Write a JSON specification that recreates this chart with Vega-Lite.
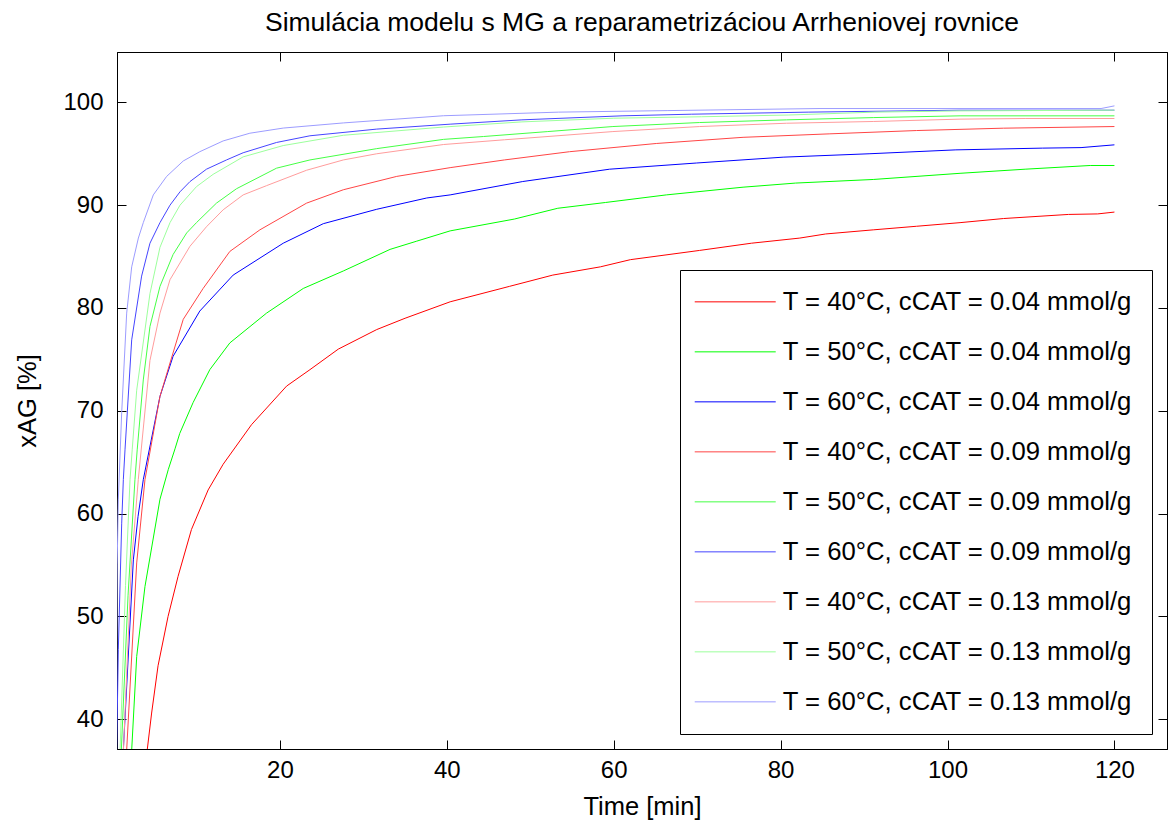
{
  "$schema": "https://vega.github.io/schema/vega-lite/v6.json",
  "width": 1050,
  "height": 697,
  "autosize": {"type": "none"},
  "padding": {"left": 117, "top": 52, "right": 6, "bottom": 77},
  "background": "white",
  "title": {"text": "Simulácia modelu s MG a reparametrizáciou Arrheniovej rovnice", "font": "Liberation Sans", "fontSize": 26.5, "fontWeight": "normal", "color": "black", "anchor": "middle", "offset": 15},
  "config": {
    "view": {"stroke": "black", "strokeWidth": 1},
    "axis": {"labelFont": "Liberation Sans", "titleFont": "Liberation Sans", "labelFontSize": 24, "titleFontSize": 25.5, "titleFontWeight": "normal", "labelColor": "black", "titleColor": "black", "domainColor": "black", "tickColor": "black", "grid": false, "tickSize": -9}
  },
  "data": {"values": [
    {"s":"40|0.04","t":3.7,"x":34},{"s":"40|0.04","t":4.1,"x":37.0},{"s":"40|0.04","t":4.63,"x":40.6},{"s":"40|0.04","t":5.4,"x":45.2},{"s":"40|0.04","t":6.6,"x":50.0},{"s":"40|0.04","t":7.8,"x":53.9},{"s":"40|0.04","t":9.4,"x":58.45},{"s":"40|0.04","t":11.4,"x":62.3},{"s":"40|0.04","t":13.2,"x":64.8},{"s":"40|0.04","t":16.6,"x":68.65},{"s":"40|0.04","t":20.8,"x":72.4},{"s":"40|0.04","t":23.6,"x":74.0},{"s":"40|0.04","t":27,"x":76.0},{"s":"40|0.04","t":31.6,"x":77.9},{"s":"40|0.04","t":35,"x":79.0},{"s":"40|0.04","t":40.4,"x":80.6},{"s":"40|0.04","t":47.5,"x":82.1},{"s":"40|0.04","t":52.7,"x":83.2},{"s":"40|0.04","t":58.4,"x":84.0},{"s":"40|0.04","t":62,"x":84.7},{"s":"40|0.04","t":70.3,"x":85.6},{"s":"40|0.04","t":76.5,"x":86.3},{"s":"40|0.04","t":82.3,"x":86.8},{"s":"40|0.04","t":85.4,"x":87.2},{"s":"40|0.04","t":91.1,"x":87.6},{"s":"40|0.04","t":96.3,"x":87.95},{"s":"40|0.04","t":101.5,"x":88.3},{"s":"40|0.04","t":106.7,"x":88.7},{"s":"40|0.04","t":114.5,"x":89.1},{"s":"40|0.04","t":118,"x":89.15},{"s":"40|0.04","t":120,"x":89.33},
    {"s":"50|0.04","t":2.0,"x":34.5},{"s":"50|0.04","t":2.24,"x":37.0},{"s":"50|0.04","t":2.84,"x":46.1},{"s":"50|0.04","t":3.83,"x":52.9},{"s":"50|0.04","t":5.63,"x":61.4},{"s":"50|0.04","t":6.63,"x":64.3},{"s":"50|0.04","t":7.43,"x":66.3},{"s":"50|0.04","t":8.0,"x":67.8},{"s":"50|0.04","t":9.6,"x":70.8},{"s":"50|0.04","t":11.6,"x":74.0},{"s":"50|0.04","t":14.0,"x":76.6},{"s":"50|0.04","t":18.4,"x":79.5},{"s":"50|0.04","t":22.8,"x":81.9},{"s":"50|0.04","t":27.6,"x":83.6},{"s":"50|0.04","t":33.2,"x":85.7},{"s":"50|0.04","t":36.4,"x":86.5},{"s":"50|0.04","t":40.4,"x":87.5},{"s":"50|0.04","t":48.1,"x":88.65},{"s":"50|0.04","t":53.3,"x":89.7},{"s":"50|0.04","t":59.0,"x":90.26},{"s":"50|0.04","t":66.3,"x":91.0},{"s":"50|0.04","t":75.5,"x":91.75},{"s":"50|0.04","t":81.8,"x":92.15},{"s":"50|0.04","t":91.1,"x":92.5},{"s":"50|0.04","t":101.5,"x":93.1},{"s":"50|0.04","t":109.3,"x":93.5},{"s":"50|0.04","t":117.1,"x":93.86},{"s":"50|0.04","t":120,"x":93.86},
    {"s":"60|0.04","t":1.1,"x":35},{"s":"60|0.04","t":1.24,"x":37.0},{"s":"60|0.04","t":2.44,"x":55.5},{"s":"60|0.04","t":3.0,"x":59.7},{"s":"60|0.04","t":3.63,"x":63.3},{"s":"60|0.04","t":5.63,"x":71.4},{"s":"60|0.04","t":7.2,"x":75.3},{"s":"60|0.04","t":10.4,"x":79.7},{"s":"60|0.04","t":14.4,"x":83.2},{"s":"60|0.04","t":20.4,"x":86.3},{"s":"60|0.04","t":25.2,"x":88.2},{"s":"60|0.04","t":31.6,"x":89.6},{"s":"60|0.04","t":37.6,"x":90.7},{"s":"60|0.04","t":40.4,"x":91.0},{"s":"60|0.04","t":49.1,"x":92.3},{"s":"60|0.04","t":59.5,"x":93.5},{"s":"60|0.04","t":69.9,"x":94.1},{"s":"60|0.04","t":80.3,"x":94.67},{"s":"60|0.04","t":90.6,"x":95.0},{"s":"60|0.04","t":101,"x":95.38},{"s":"60|0.04","t":111.4,"x":95.55},{"s":"60|0.04","t":116,"x":95.6},{"s":"60|0.04","t":120,"x":95.87},
    {"s":"40|0.09","t":1.5,"x":35},{"s":"40|0.09","t":1.64,"x":37.0},{"s":"40|0.09","t":2.84,"x":55.2},{"s":"40|0.09","t":3.83,"x":63.3},{"s":"40|0.09","t":5.63,"x":71.4},{"s":"40|0.09","t":6.83,"x":74.65},{"s":"40|0.09","t":8.42,"x":78.9},{"s":"40|0.09","t":10.8,"x":81.9},{"s":"40|0.09","t":14.0,"x":85.5},{"s":"40|0.09","t":17.6,"x":87.6},{"s":"40|0.09","t":23.2,"x":90.2},{"s":"40|0.09","t":27.6,"x":91.5},{"s":"40|0.09","t":34.0,"x":92.8},{"s":"40|0.09","t":40.4,"x":93.65},{"s":"40|0.09","t":46.9,"x":94.4},{"s":"40|0.09","t":54.7,"x":95.2},{"s":"40|0.09","t":65.1,"x":96.0},{"s":"40|0.09","t":75.5,"x":96.6},{"s":"40|0.09","t":85.9,"x":96.94},{"s":"40|0.09","t":96.3,"x":97.26},{"s":"40|0.09","t":106.7,"x":97.49},{"s":"40|0.09","t":120,"x":97.65},
    {"s":"50|0.09","t":0.85,"x":35},{"s":"50|0.09","t":1.0,"x":37.0},{"s":"50|0.09","t":1.8,"x":52},{"s":"50|0.09","t":2.63,"x":63.3},{"s":"50|0.09","t":2.9,"x":66.2},{"s":"50|0.09","t":3.63,"x":73.0},{"s":"50|0.09","t":4.43,"x":78.2},{"s":"50|0.09","t":5.63,"x":82.1},{"s":"50|0.09","t":7.2,"x":85.2},{"s":"50|0.09","t":8.83,"x":87.3},{"s":"50|0.09","t":10.0,"x":88.3},{"s":"50|0.09","t":12.4,"x":90.2},{"s":"50|0.09","t":14.8,"x":91.6},{"s":"50|0.09","t":19.6,"x":93.6},{"s":"50|0.09","t":23.6,"x":94.4},{"s":"50|0.09","t":31.6,"x":95.5},{"s":"50|0.09","t":39.6,"x":96.4},{"s":"50|0.09","t":44.4,"x":96.68},{"s":"50|0.09","t":52.1,"x":97.16},{"s":"50|0.09","t":59.9,"x":97.65},{"s":"50|0.09","t":70.3,"x":98.04},{"s":"50|0.09","t":80.7,"x":98.3},{"s":"50|0.09","t":91.1,"x":98.52},{"s":"50|0.09","t":101.5,"x":98.69},{"s":"50|0.09","t":120,"x":98.69},
    {"s":"60|0.09","t":0.35,"x":30},{"s":"60|0.09","t":0.44,"x":37.0},{"s":"60|0.09","t":0.64,"x":46.8},{"s":"60|0.09","t":1.04,"x":59},{"s":"60|0.09","t":1.24,"x":63.3},{"s":"60|0.09","t":1.44,"x":66.2},{"s":"60|0.09","t":2.24,"x":76.9},{"s":"60|0.09","t":3.43,"x":83.1},{"s":"60|0.09","t":4.43,"x":86.3},{"s":"60|0.09","t":5.63,"x":88.3},{"s":"60|0.09","t":6.83,"x":90.0},{"s":"60|0.09","t":8.03,"x":91.3},{"s":"60|0.09","t":9.23,"x":92.3},{"s":"60|0.09","t":11.2,"x":93.5},{"s":"60|0.09","t":13.6,"x":94.4},{"s":"60|0.09","t":15.6,"x":95.1},{"s":"60|0.09","t":19.6,"x":96.1},{"s":"60|0.09","t":23.6,"x":96.75},{"s":"60|0.09","t":31.6,"x":97.4},{"s":"60|0.09","t":40.4,"x":97.88},{"s":"60|0.09","t":49,"x":98.3},{"s":"60|0.09","t":61,"x":98.69},{"s":"60|0.09","t":69.3,"x":98.85},{"s":"60|0.09","t":83.3,"x":99.05},{"s":"60|0.09","t":101.5,"x":99.24},{"s":"60|0.09","t":120,"x":99.24},
    {"s":"40|0.13","t":1.1,"x":35},{"s":"40|0.13","t":1.25,"x":37.0},{"s":"40|0.13","t":2.2,"x":55},{"s":"40|0.13","t":3.03,"x":63.3},{"s":"40|0.13","t":4.43,"x":74.9},{"s":"40|0.13","t":5.63,"x":79.5},{"s":"40|0.13","t":6.83,"x":82.75},{"s":"40|0.13","t":9.22,"x":86.0},{"s":"40|0.13","t":11.2,"x":87.9},{"s":"40|0.13","t":13.2,"x":89.55},{"s":"40|0.13","t":15.6,"x":91.0},{"s":"40|0.13","t":18.4,"x":91.9},{"s":"40|0.13","t":23.2,"x":93.4},{"s":"40|0.13","t":27.6,"x":94.4},{"s":"40|0.13","t":31.6,"x":95.0},{"s":"40|0.13","t":39.6,"x":95.9},{"s":"40|0.13","t":46.9,"x":96.36},{"s":"40|0.13","t":59.9,"x":97.16},{"s":"40|0.13","t":70.3,"x":97.65},{"s":"40|0.13","t":80.7,"x":97.97},{"s":"40|0.13","t":91.1,"x":98.14},{"s":"40|0.13","t":101.5,"x":98.37},{"s":"40|0.13","t":109.3,"x":98.43},{"s":"40|0.13","t":120,"x":98.43},
    {"s":"50|0.13","t":0.7,"x":35},{"s":"50|0.13","t":0.85,"x":37.0},{"s":"50|0.13","t":1.5,"x":53},{"s":"50|0.13","t":2.04,"x":63.3},{"s":"50|0.13","t":2.3,"x":66.2},{"s":"50|0.13","t":2.84,"x":72.0},{"s":"50|0.13","t":4.43,"x":81.4},{"s":"50|0.13","t":5.63,"x":85.9},{"s":"50|0.13","t":6.83,"x":88.3},{"s":"50|0.13","t":8.03,"x":90.0},{"s":"50|0.13","t":10.0,"x":91.8},{"s":"50|0.13","t":12.0,"x":93.0},{"s":"50|0.13","t":15.6,"x":94.7},{"s":"50|0.13","t":20.4,"x":95.8},{"s":"50|0.13","t":27.6,"x":96.8},{"s":"50|0.13","t":39.6,"x":97.6},{"s":"50|0.13","t":49,"x":98.1},{"s":"50|0.13","t":60,"x":98.46},{"s":"50|0.13","t":70.5,"x":98.6},{"s":"50|0.13","t":80.9,"x":98.77},{"s":"50|0.13","t":91.3,"x":99.05},{"s":"50|0.13","t":101.5,"x":99.17},{"s":"50|0.13","t":120,"x":99.24},
    {"s":"60|0.13","t":0.33,"x":30},{"s":"60|0.13","t":0.5,"x":55},{"s":"60|0.13","t":0.64,"x":61.4},{"s":"60|0.13","t":1.04,"x":69.8},{"s":"60|0.13","t":1.64,"x":79.5},{"s":"60|0.13","t":2.24,"x":84.0},{"s":"60|0.13","t":3.04,"x":86.8},{"s":"60|0.13","t":3.63,"x":88.3},{"s":"60|0.13","t":4.83,"x":91.0},{"s":"60|0.13","t":6.43,"x":92.8},{"s":"60|0.13","t":8.42,"x":94.3},{"s":"60|0.13","t":10.4,"x":95.2},{"s":"60|0.13","t":13.2,"x":96.25},{"s":"60|0.13","t":16.4,"x":97.0},{"s":"60|0.13","t":20.4,"x":97.5},{"s":"60|0.13","t":27.6,"x":98.0},{"s":"60|0.13","t":39.6,"x":98.7},{"s":"60|0.13","t":53.4,"x":99.05},{"s":"60|0.13","t":66.4,"x":99.2},{"s":"60|0.13","t":84.6,"x":99.4},{"s":"60|0.13","t":118.4,"x":99.4},{"s":"60|0.13","t":120,"x":99.66}
  ]},
  "layer": [
    {
      "mark": {"type": "line", "strokeWidth": 1, "clip": true},
      "encoding": {
        "x": {"field": "t", "type": "quantitative", "scale": {"domain": [0.48, 126.3], "nice": false, "zero": false},
              "axis": {"orient": "bottom", "values": [20, 40, 60, 80, 100, 120], "title": "Time [min]", "labelPadding": 18, "titlePadding": 12}},
        "y": {"field": "x", "type": "quantitative", "scale": {"domain": [37.1, 104.9], "nice": false, "zero": false},
              "axis": {"orient": "left", "values": [40, 50, 60, 70, 80, 90, 100], "title": "xAG [%]", "labelPadding": 23, "titlePadding": 22}},
        "color": {"field": "s", "type": "nominal",
                  "scale": {"domain": ["40|0.04", "50|0.04", "60|0.04", "40|0.09", "50|0.09", "60|0.09", "40|0.13", "50|0.13", "60|0.13"],
                            "range": ["#ff0000", "#00ff00", "#0000ff", "#ff4545", "#45ff45", "#4545ff", "#ff9c9c", "#9cff9c", "#9c9cff"]},
                  "legend": {"orient": "bottom-right", "offset": 15, "title": null, "fillColor": "white", "strokeColor": "black", "padding": 19,
                             "labelFont": "Liberation Sans", "labelFontSize": 25.7, "labelColor": "black", "labelLimit": 0,
                             "symbolType": "M-1,0H7", "symbolSize": 410, "symbolStrokeWidth": 1, "symbolOffset": -7, "labelOffset": 65, "rowPadding": 23.0,
                             "labelExpr": "'T = ' + slice(datum.label, 0, 2) + '°C, cCAT = ' + slice(datum.label, 3) + ' mmol/g'"}}
      }
    },
    {
      "mark": {"type": "point", "opacity": 0},
      "encoding": {
        "x": {"field": "t", "type": "quantitative", "axis": {"orient": "top", "values": [20, 40, 60, 80, 100, 120], "labels": false, "title": null}},
        "y": {"field": "x", "type": "quantitative", "axis": {"orient": "right", "values": [40, 50, 60, 70, 80, 90, 100], "labels": false, "title": null}}
      }
    }
  ],
  "resolve": {"axis": {"x": "independent", "y": "independent"}}
}
